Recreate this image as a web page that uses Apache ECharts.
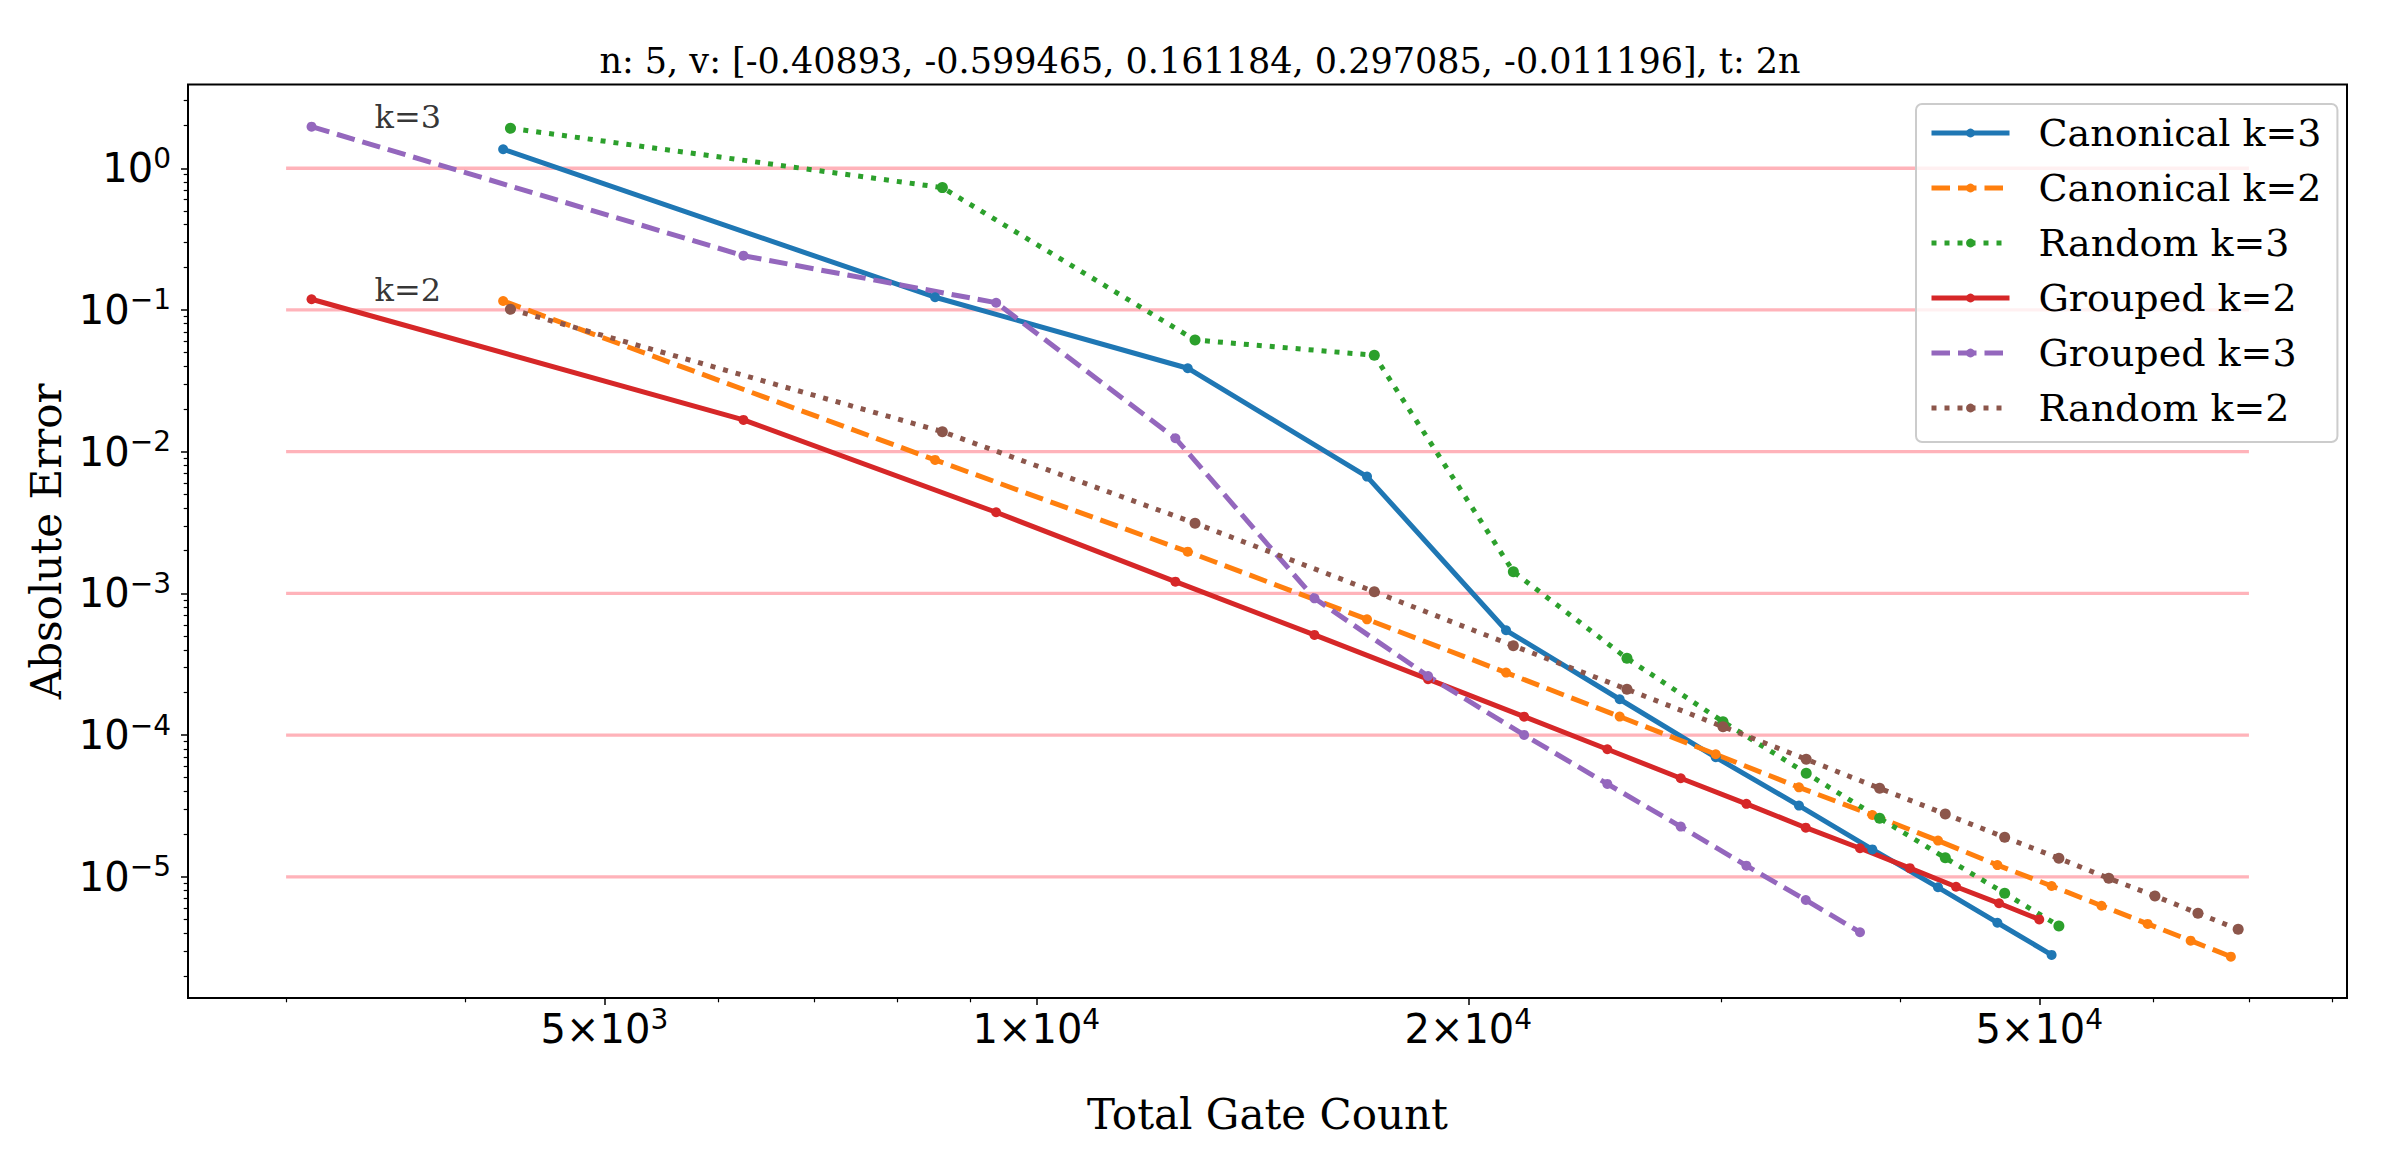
<!DOCTYPE html>
<html>
<head>
<meta charset="utf-8">
<title>Absolute Error vs Total Gate Count</title>
<script src="https://cdn.jsdelivr.net/npm/echarts@6/dist/echarts.min.js"></script>
<style>
html, body { margin: 0; padding: 0; background: #fff; }
#chart { width: 2400px; height: 1152px; }
</style>
</head>
<body>
<div id="chart"></div>
<script>
// total gate counts per step
var gatesCanonical = [4250, 8500, 12750, 17000, 21250, 25500, 29750, 34000, 38250, 42500, 46750, 51000, 55250, 59500, 63750, 68000];
var gatesRandom = [4300, 8600, 12900, 17200, 21500, 25800, 30100, 34400, 38700, 43000, 47300, 51600, 55900, 60200, 64500, 68800];
var gatesGrouped = [3125, 6250, 9375, 12500, 15625, 18750, 21875, 25000, 28125, 31250, 34375, 37500, 40625, 43750, 46875, 50000];

// absolute error
var errCanonicalK3 = [1.362, 0.123, 0.0388, 0.00667, 0.000549, 0.000179, 0.0000697, 0.0000318, 0.0000156, 0.00000843, 0.00000474, 0.00000281];
var errCanonicalK2 = [0.1157, 0.00874, 0.00197, 0.000656, 0.000276, 0.000135, 0.0000732, 0.0000428, 0.0000273, 0.000018, 0.0000121, 0.00000861, 0.00000625, 0.00000465, 0.00000354, 0.00000273];
var errRandomK3 = [1.915, 0.73, 0.0614, 0.0479, 0.001423, 0.000348, 0.0001243, 0.0000538, 0.0000259, 0.0000136, 0.00000765, 0.0000045];
var errGroupedK2 = [0.119, 0.01675, 0.003735, 0.00121, 0.000509, 0.000248, 0.0001349, 0.0000794, 0.0000496, 0.0000327, 0.0000222, 0.0000159, 0.0000115, 0.0000085, 0.0000065, 0.000005];
var errGroupedK3 = [1.966, 0.2416, 0.1125, 0.01243, 0.000923, 0.000261, 0.0001002, 0.0000452, 0.0000226, 0.00001198, 0.00000686, 0.00000406];
var errRandomK2 = [0.1012, 0.01384, 0.003125, 0.001028, 0.000427, 0.0002105, 0.0001146, 0.0000675, 0.0000421, 0.0000277, 0.000019, 0.0000135, 0.00000976, 0.00000732, 0.00000552, 0.00000426];

// reference levels (pink lines) and their x span
var refLevels = [1, 0.1, 0.01, 0.001, 0.0001, 0.00001];
var refSpan = [3000, 70000];

// "k=" notes
var noteText = ['k=3', 'k=2'];
var noteGate = [3460, 3460];
var noteErr = [1.97, 0.119];

// ticks
var xMajorTicks = [5000, 10000, 20000, 50000];
var xMinorTicks = [3000, 4000, 6000, 7000, 8000, 9000, 30000, 40000, 60000, 70000, 80000];
var yMajorTicks = [0.00001, 0.0001, 0.001, 0.01, 0.1, 1];
var yMinorTicks = [];
for (var p = -6; p <= 0; p++) {
	for (var m = 2; m <= 9; m++) {
		var t = m * Math.pow(10, p);
		if (t > 1.39e-6 && t < 3.9) yMinorTicks.push(t);
	}
}

var titleText = 'n: 5, v: [-0.40893, -0.599465, 0.161184, 0.297085, -0.011196], t: 2n';
var serif = 'DejaVu Serif';
var sans = 'DejaVu Sans';

function pairs(xs, ys) {
	var out = [];
	for (var i = 0; i < ys.length; i++) out.push([xs[i], ys[i]]);
	return out;
}

function lineSeries(name, xs, ys, color, dash, size) {
	return {
		name: name,
		type: 'line',
		data: pairs(xs, ys),
		symbol: 'circle',
		symbolSize: size,
		showAllSymbol: true,
		itemStyle: { color: color },
		lineStyle: { color: color, width: 5, type: dash },
		z: 3
	};
}

var supRich = {
	b: { fontFamily: sans, fontSize: 40, lineHeight: 48, verticalAlign: 'middle', color: '#000' },
	s: { fontFamily: sans, fontSize: 28, lineHeight: 34, verticalAlign: 'top', color: '#000' }
};

var dashed = [18.5, 8];
var dotted = [5, 8];

var series = [
	lineSeries('Canonical k=3', gatesCanonical, errCanonicalK3, '#1f77b4', 'solid', 10),
	lineSeries('Canonical k=2', gatesCanonical, errCanonicalK2, '#ff7f0e', dashed, 10),
	lineSeries('Random k=3', gatesRandom, errRandomK3, '#2ca02c', dotted, 11),
	lineSeries('Grouped k=2', gatesGrouped, errGroupedK2, '#d62728', 'solid', 10),
	lineSeries('Grouped k=3', gatesGrouped, errGroupedK3, '#9467bd', dashed, 10),
	lineSeries('Random k=2', gatesRandom, errRandomK2, '#8c564b', dotted, 11)
];

for (var i = 0; i < refLevels.length; i++) {
	series.unshift({
		name: 'ref' + i,
		type: 'line',
		data: [[refSpan[0], refLevels[i]], [refSpan[1], refLevels[i]]],
		symbol: 'none',
		silent: true,
		lineStyle: { color: '#ffb3ba', width: 3.3 },
		z: 1
	});
}

var notes = [];
for (var j = 0; j < noteText.length; j++) notes.push([noteGate[j], noteErr[j], noteText[j]]);
series.push({
	name: 'notes',
	type: 'scatter',
	data: notes,
	symbolSize: 1,
	itemStyle: { color: 'rgba(0,0,0,0)' },
	silent: true,
	label: {
		show: true,
		position: [0, 0],
		align: 'left',
		verticalAlign: 'bottom',
		offset: [0, 7],
		formatter: function (p) { return p.value[2]; },
		fontFamily: serif,
		fontSize: 32,
		color: '#000'
	},
	z: 4
});

var xRange = { min: 2563, max: 81930 };
var yRange = { min: 1.395e-6, max: 3.9 };

var option = {
	animation: false,
	backgroundColor: '#fff',
	title: {
		text: titleText,
		left: 'center',
		top: 43,
		padding: [0, 0, 0, 135],
		textStyle: { fontFamily: serif, fontSize: 35, fontWeight: 'normal', color: '#000' }
	},
	legend: {
		data: ['Canonical k=3', 'Canonical k=2', 'Random k=3', 'Grouped k=2', 'Grouped k=3', 'Random k=2'],
		orient: 'vertical',
		left: 1916,
		top: 104,
		itemWidth: 78,
		itemHeight: 11,
		itemGap: 15,
		padding: [9, 16, 14, 13],
		backgroundColor: 'rgba(255,255,255,0.8)',
		borderColor: '#cccccc',
		borderWidth: 2,
		borderRadius: 6,
		lineStyle: { width: 5 },
		textStyle: { fontFamily: serif, fontSize: 38, color: '#000', lineHeight: 40, padding: [0, 0, 0, 24] }
	},
	grid: {
		left: 188,
		right: 53,
		top: 84.5,
		bottom: 154,
		show: true,
		borderColor: '#000',
		borderWidth: 2,
		backgroundColor: 'rgba(0,0,0,0)'
	},
	xAxis: [{
		type: 'log',
		position: 'bottom',
		min: xRange.min,
		max: xRange.max,
		name: 'Total Gate Count',
		nameLocation: 'middle',
		nameGap: 95,
		nameTextStyle: { fontFamily: serif, fontSize: 42, color: '#000' },
		axisLine: { show: false },
		splitLine: { show: false },
		axisTick: { show: true, customValues: xMajorTicks, length: 7, lineStyle: { color: '#000', width: 1.5 } },
		axisLabel: {
			customValues: xMajorTicks,
			margin: 7,
			rich: supRich,
			formatter: function (v) {
				var e = Math.floor(Math.log(v) / Math.LN10 + 1e-9);
				var m = Math.round(v / Math.pow(10, e));
				return '{b|' + m + '\u00d710}{s|' + e + '}';
			}
		}
	}, {
		type: 'log',
		position: 'bottom',
		min: xRange.min,
		max: xRange.max,
		axisLine: { show: false },
		splitLine: { show: false },
		axisLabel: { show: false },
		axisTick: { show: true, customValues: xMinorTicks, length: 4.3, lineStyle: { color: '#000', width: 1.2 } }
	}],
	yAxis: [{
		type: 'log',
		position: 'left',
		min: yRange.min,
		max: yRange.max,
		name: 'Absolute Error',
		nameLocation: 'middle',
		nameGap: 118,
		nameTextStyle: { fontFamily: serif, fontSize: 42, color: '#000' },
		axisLine: { show: false },
		splitLine: { show: false },
		axisTick: { show: true, customValues: yMajorTicks, length: 7, lineStyle: { color: '#000', width: 1.5 } },
		axisLabel: {
			customValues: yMajorTicks,
			margin: 17,
			rich: supRich,
			formatter: function (v) {
				var e = Math.round(Math.log(v) / Math.LN10);
				return '{b|10}{s|' + (e < 0 ? '\u2212' + (-e) : e) + '}';
			}
		}
	}, {
		type: 'log',
		position: 'left',
		min: yRange.min,
		max: yRange.max,
		axisLine: { show: false },
		splitLine: { show: false },
		axisLabel: { show: false },
		axisTick: { show: true, customValues: yMinorTicks, length: 4.3, lineStyle: { color: '#000', width: 1.2 } }
	}],
	series: series
};

var chart = echarts.init(document.getElementById('chart'), null, { renderer: 'svg' });
chart.setOption(option);
</script>
</body>
</html>
